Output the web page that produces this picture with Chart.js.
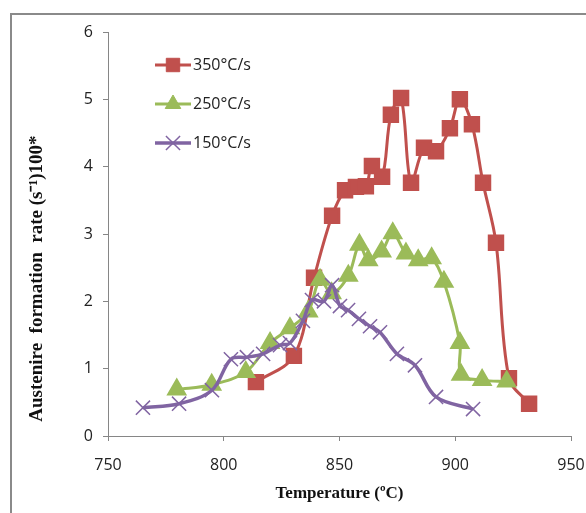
<!DOCTYPE html>
<html>
<head>
<meta charset="utf-8">
<script src="https://cdn.jsdelivr.net/npm/chart.js@4"></script>
<style>
  html, body { margin: 0; padding: 0; background: #fff; overflow: hidden; }
  #wrap { position: relative; width: 586px; height: 513px; }
  #frame { position: absolute; left: 10px; top: 13px; width: 600px; height: 520px;
           border-left: 2px solid #8a8a8a; border-top: 2px solid #8a8a8a; }
  #myChart { position: absolute; left: 0; top: 0; }
</style>
</head>
<body>
<div id="wrap">
  <div id="frame"></div>
  <canvas id="myChart" width="586" height="513"></canvas>
</div>
<script>
// heating rate series, temperature (°C) vs austenite formation rate
var temps350 = [813.9, 830.3, 839.0, 846.8, 852.4, 857.1, 861.4, 864.0, 868.4, 872.2, 876.6,
                880.9, 886.5, 891.7, 897.7, 902.0, 907.2, 912.0, 917.6, 923.2, 931.9];
var rate350 = [0.80, 1.19, 2.35, 3.27, 3.65, 3.70, 3.71, 4.01, 3.85, 4.77, 5.02,
               3.76, 4.28, 4.23, 4.57, 5.00, 4.63, 3.76, 2.87, 0.86, 0.48];

var temps250 = [779.7, 794.8, 809.5, 820.0, 828.6, 836.5, 841.6, 846.6, 853.8, 858.6, 862.4,
                868.2, 873.0, 878.7, 884.0, 889.8, 895.1, 902.0, 902.5, 911.6, 922.2];
var rate250 = [0.69, 0.76, 0.95, 1.38, 1.60, 1.85, 2.32, 2.12, 2.38, 2.84, 2.61,
               2.74, 3.01, 2.71, 2.61, 2.64, 2.29, 1.38, 0.91, 0.83, 0.81];

var temps150 = [765.1, 780.7, 794.9, 803.1, 810.0, 817.0, 824.3, 828.6, 834.2, 838.1, 843.3,
                846.8, 850.2, 853.7, 858.4, 863.2, 867.5, 874.8, 882.6, 891.7, 907.7];
var rate150 = [0.42, 0.48, 0.68, 1.14, 1.17, 1.22, 1.35, 1.38, 1.71, 2.02, 2.00,
               2.24, 1.93, 1.87, 1.74, 1.63, 1.54, 1.22, 1.05, 0.58, 0.40];

var seriesLabels = ['350°C/s', '250°C/s', '150°C/s'];
var xTicks = [750, 800, 850, 900, 950];
var yTicks = [0, 1, 2, 3, 4, 5, 6];

function pairs(xs, ys) {
    return xs.map(function (x, i) { return { x: x, y: ys[i] }; });
}

var axisGrey = '#868686';
var tickFont = { family: 'Open Sans', size: 16 };

// legend drawn inside the plot like the original
var innerLegend = {
    id: 'innerLegend',
    afterDraw: function (chart) {
        var ctx = chart.ctx;
        var rows = [65, 104, 143];
        chart.data.datasets.forEach(function (ds, i) {
            var y = rows[i];
            ctx.save();
            ctx.strokeStyle = ds.borderColor;
            ctx.lineWidth = ds.borderWidth;
            ctx.beginPath();
            ctx.moveTo(155, y);
            ctx.lineTo(191, y);
            ctx.stroke();
            ctx.fillStyle = ds.pointBackgroundColor;
            ctx.strokeStyle = ds.pointBorderColor;
            ctx.lineWidth = ds.pointBorderWidth || 1;
            Chart.helpers.drawPoint(ctx, {
                pointStyle: ds.pointStyle,
                radius: ds.pointRadius,
                borderWidth: ds.pointBorderWidth || 1
            }, 173, y);
            ctx.restore();
            ctx.save();
            ctx.fillStyle = '#222';
            ctx.font = '16px "Open Sans"';
            ctx.textBaseline = 'middle';
            ctx.fillText(ds.label, 193, y);
            ctx.restore();
        });
    }
};

var ctx = document.getElementById('myChart').getContext('2d');
var chart = new Chart(ctx, {
    type: 'line',
    data: {
        datasets: [{
            label: seriesLabels[0],
            data: pairs(temps350, rate350),
            borderColor: '#C0504D',
            backgroundColor: '#C0504D',
            pointBackgroundColor: '#C0504D',
            pointBorderColor: '#C0504D',
            pointStyle: 'rect',
            pointRadius: 9.5,
            borderWidth: 3,
            order: 3
        }, {
            label: seriesLabels[1],
            data: pairs(temps250, rate250),
            borderColor: '#9BBB59',
            backgroundColor: '#9BBB59',
            pointBackgroundColor: '#9BBB59',
            pointBorderColor: '#9BBB59',
            pointStyle: 'triangle',
            pointRadius: 9,
            borderWidth: 3,
            order: 2
        }, {
            label: seriesLabels[2],
            data: pairs(temps150, rate150),
            borderColor: '#8064A2',
            backgroundColor: '#8064A2',
            pointBackgroundColor: '#8064A2',
            pointBorderColor: '#8064A2',
            pointStyle: 'crossRot',
            pointRadius: 10,
            pointBorderWidth: 1.5,
            borderWidth: 3.5,
            order: 1
        }]
    },
    options: {
        responsive: false,
        animation: false,
        layout: { padding: { left: 0, right: 15, top: 32, bottom: 0 } },
        elements: { line: { tension: 0.35 } },
        plugins: {
            legend: { display: false },
            tooltip: { enabled: false }
        },
        scales: {
            x: {
                type: 'linear',
                min: 750,
                max: 950,
                afterBuildTicks: function (s) { s.ticks = xTicks.map(function (v) { return { value: v }; }); },
                afterFit: function (s) { s.height = 77; s.paddingLeft = 0; s.paddingRight = 0; },
                ticks: { font: tickFont, color: '#222', padding: 15, maxRotation: 0 },
                grid: { drawOnChartArea: false, drawTicks: true, tickLength: 5, color: axisGrey },
                border: { color: axisGrey, width: 1 },
                title: {
                    display: true,
                    text: 'Temperature (ºC)',
                    font: { family: 'Liberation Serif', size: 17, weight: 'bold' },
                    color: '#111',
                    padding: { top: 0, bottom: 9 }
                }
            },
            y: {
                min: 0,
                max: 6,
                afterBuildTicks: function (s) { s.ticks = yTicks.map(function (v) { return { value: v }; }); },
                afterFit: function (s) { s.width = 108; s.paddingTop = 0; s.paddingBottom = 0; },
                ticks: { font: tickFont, color: '#222', padding: 10 },
                grid: { drawOnChartArea: false, drawTicks: true, tickLength: 5, color: axisGrey },
                border: { color: axisGrey, width: 1 },
                title: {
                    display: true,
                    align: 'start',
                    text: '   Austenire  formation  rate (s⁻¹)100*',
                    font: { family: 'Liberation Serif', size: 19, weight: 'bold' },
                    color: '#111',
                    padding: { top: 26, bottom: 0 }
                }
            }
        }
    },
    plugins: [innerLegend]
});
</script>
</body>
</html>
